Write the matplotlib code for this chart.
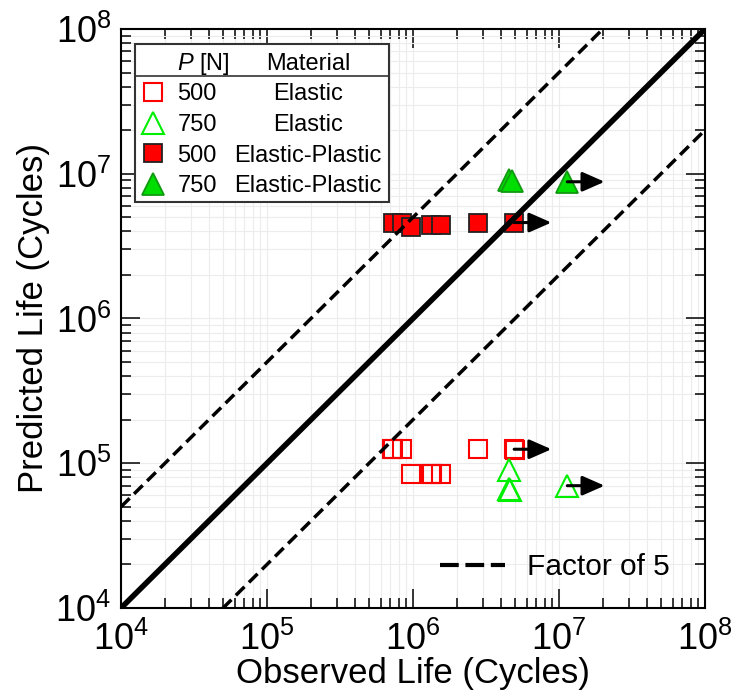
import matplotlib.pyplot as plt
from matplotlib.patches import Rectangle
from matplotlib.ticker import LogLocator, NullFormatter

plt.rcParams['font.family'] = ['Liberation Sans', 'DejaVu Sans']
plt.rcParams['mathtext.fontset'] = 'custom'
plt.rcParams['mathtext.rm'] = 'Liberation Sans'
plt.rcParams['mathtext.it'] = 'Liberation Sans:italic'

# elastic model, P = 500 N
el500_obs = [7.2e5, 7.25e5, 8.4e5, 2.8e6, 4.93e6, 4.96e6, 9.7e5, 1.32e6, 1.34e6, 1.55e6]
el500_pred = [1.25e5, 1.25e5, 1.25e5, 1.25e5, 1.25e5, 1.24e5, 8.4e4, 8.4e4, 8.4e4, 8.4e4]
# elastic model, P = 750 N
el750_obs = [4.57e6, 4.55e6, 4.62e6, 1.14e7]
el750_pred = [9.0e4, 6.6e4, 6.5e4, 7.0e4]
# elastic-plastic model, P = 500 N
ep500_obs = [7.24e5, 8.38e5, 9.64e5, 1.33e6, 1.55e6, 2.8e6, 4.93e6]
ep500_pred = [4.6e6, 4.6e6, 4.28e6, 4.43e6, 4.43e6, 4.6e6, 4.6e6]
# elastic-plastic model, P = 750 N
ep750_obs = [4.52e6, 4.74e6, 1.14e7]
ep750_pred = [9.06e6, 8.9e6, 8.8e6]

# run-outs get an arrow to the right
runout_obs = [4.93e6, 1.14e7, 4.93e6, 1.14e7]
runout_pred = [4.6e6, 8.8e6, 1.25e5, 7.0e4]
runout_factor = 1.8

factor = 5
lims = [1e4, 1e8]

legend_loads = ['500', '750', '500', '750']
legend_materials = ['Elastic', 'Elastic', 'Elastic-Plastic', 'Elastic-Plastic']

styles = [
    dict(marker='s', ms=12.5, mfc='none', mec='#ff0000', mew=1.5),
    dict(marker='^', ms=16, mfc='none', mec='#00ee00', mew=1.5),
    dict(marker='s', ms=12.5, mfc='#ff0000', mec='#222222', mew=1.3),
    dict(marker='^', ms=16, mfc='#00dd00', mec='#119911', mew=1.3),
]

fig, ax = plt.subplots(figsize=(7.32, 6.98), dpi=100)
fig.subplots_adjust(left=0.1653, right=0.9631, bottom=0.1289, top=0.9585)

ax.set_xscale('log')
ax.set_yscale('log')
ax.set_xlim(lims)
ax.set_ylim(lims)

ax.grid(True, which='both', color='#ececec', lw=0.8)
ax.set_axisbelow(True)

series = [(el500_obs, el500_pred), (el750_obs, el750_pred),
          (ep500_obs, ep500_pred), (ep750_obs, ep750_pred)]
for (x, y), st in zip(series, styles):
    ax.plot(x, y, ls='none', zorder=3, **st)

ax.plot(lims, lims, color='k', lw=4, zorder=4)
ax.plot(lims, [v * factor for v in lims], color='k', lw=2.5, ls=(0, (3.5, 1.8)), zorder=4)
ax.plot(lims, [v / factor for v in lims], color='k', lw=2.5, ls=(0, (3.5, 1.8)), zorder=4)

for x, y in zip(runout_obs, runout_pred):
    ax.annotate('', xy=(x * runout_factor, y), xytext=(x, y),
                arrowprops=dict(arrowstyle='-|>,head_length=0.5,head_width=0.22',
                                color='k', lw=2.2, mutation_scale=27,
                                shrinkA=0, shrinkB=0), zorder=5)

# ticks
for axis in (ax.xaxis, ax.yaxis):
    axis.set_major_locator(LogLocator(base=10, numticks=10))
    axis.set_minor_locator(LogLocator(base=10, subs=range(2, 10), numticks=100))
    axis.set_minor_formatter(NullFormatter())
ax.tick_params(which='both', direction='in', top=True, right=True, width=1.1)
ax.tick_params(which='major', length=13.5, labelsize=26)
ax.tick_params(which='minor', length=7.5)
ax.tick_params(axis='x', pad=10)
ax.tick_params(axis='y', pad=7)
for sp in ax.spines.values():
    sp.set_linewidth(1.5)

ax.set_xlabel('Observed Life (Cycles)', fontsize=25, labelpad=-1)
ax.set_ylabel('Predicted Life (Cycles)', fontsize=25, labelpad=4)

# table-like legend
bx0, bx1, by0, by1 = 0.024, 0.459, 0.701, 0.974
ax.add_patch(Rectangle((bx0, by0), bx1 - bx0, by1 - by0, transform=ax.transAxes,
                       fc='white', ec='#333333', lw=1.5, zorder=10))
ax.plot([bx0, bx1], [0.919, 0.919], transform=ax.transAxes, color='#333333', lw=1.2, zorder=11)
ax.text(0.0953, 0.930, r'$\mathit{P}$ [N]', transform=ax.transAxes, fontsize=17,
        ha='left', va='baseline', zorder=12)
ax.text(0.320, 0.930, 'Material', transform=ax.transAxes, fontsize=17,
        ha='center', va='baseline', zorder=12)
row_base = [0.8774, 0.8238, 0.7708, 0.7180]
row_mid = [0.8917, 0.8382, 0.7853, 0.7323]
for i, st in enumerate(styles):
    ax.plot([0.0553], [row_mid[i]], transform=ax.transAxes, ls='none', zorder=12,
            clip_on=False, **st)
    ax.text(0.0964, row_base[i], legend_loads[i], transform=ax.transAxes, fontsize=17,
            ha='left', va='baseline', zorder=12)
    ax.text(0.320, row_base[i], legend_materials[i], transform=ax.transAxes, fontsize=17,
            ha='center', va='baseline', zorder=12)

# factor-of-5 key
ax.plot([0.546, 0.658], [0.0743, 0.0743], transform=ax.transAxes, color='k', lw=3,
        ls=(0, (4.5, 1.6)), zorder=6)
ax.text(0.695, 0.057, 'Factor of %d' % factor, transform=ax.transAxes, fontsize=21.5,
        ha='left', va='baseline', zorder=6)

fig.savefig('out.png', dpi=100)
